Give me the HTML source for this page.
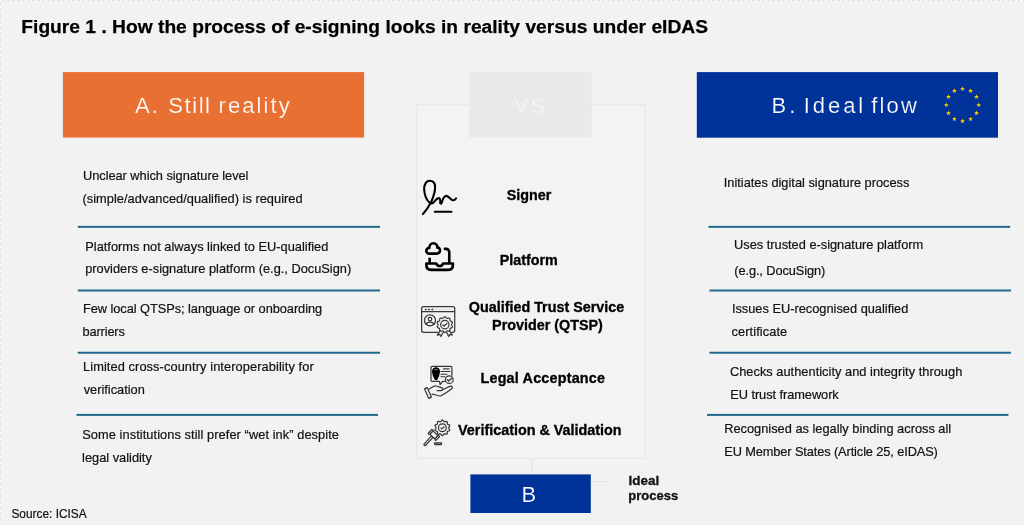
<!DOCTYPE html>
<html lang="en"><head><meta charset="utf-8"><title>Figure 1</title>
<style>
html,body{margin:0;padding:0}
body{width:1024px;height:528px;overflow:hidden;background:#fff;font-family:"Liberation Sans",sans-serif;position:relative}
#bg{position:absolute;left:0;top:0;width:1024px;height:525px;background:#f2f2f2}
#bt{position:absolute;left:0;top:0;width:1024px;height:1px;background:repeating-linear-gradient(90deg,#fafafa 0,#fafafa 2px,#e1e1e1 2px,#e1e1e1 5px)}
#bl{position:absolute;left:0;top:0;width:1px;height:525px;background:repeating-linear-gradient(180deg,#fafafa 0,#fafafa 2px,#e1e1e1 2px,#e1e1e1 6px)}
#br{position:absolute;left:1022px;top:0;width:1px;height:525px;background:repeating-linear-gradient(180deg,#f8f8f8 0,#f8f8f8 2px,#f2f2f2 2px,#f2f2f2 4px)}
.t{position:absolute;white-space:nowrap}
svg{position:absolute;overflow:visible}
</style></head><body>
<div id="bg"></div><div id="bt"></div><div id="bl"></div><div id="br"></div>
<div class="t" style="left:21.30px;top:14px;font-size:19.2px;line-height:25px;height:25px;color:#000;font-weight:bold;letter-spacing:0.015px;-webkit-text-stroke:0.25px #000;">Figure 1 . How the process of e-signing looks in reality versus under eIDAS</div>
<svg style="left:0;top:0" width="1024" height="528" viewBox="0 0 1024 528"><rect x="62.9" y="72.1" width="301.2" height="65.5" fill="#e87032"/><rect x="696.8" y="72.1" width="301.2" height="65.6" fill="#003399"/><rect x="416.8" y="104.5" width="228.3" height="354" fill="#f3f3f3" stroke="#e8e8e8" stroke-width="1.3"/><path d="M532 459V474.4M590.8 481.6H608.8" stroke="#e5e5e5" stroke-width="1.3" fill="none"/><rect x="469.1" y="72.1" width="122.5" height="65.4" fill="#e9e9e9"/><rect x="470.4" y="474.4" width="120.4" height="38.6" fill="#003399"/></svg>
<div class="t" style="left:135.00px;top:91px;font-size:22px;line-height:30px;height:30px;color:#fff;-webkit-text-stroke:0.2px #e87032;"><span style="letter-spacing:2.03px">A.</span> <span style="letter-spacing:1.58px;margin-left:2.24px">Still</span> <span style="letter-spacing:2.07px;margin-left:0.90px">reality</span></div>
<div class="t" style="left:771.55px;top:91px;font-size:22px;line-height:30px;height:30px;color:#fff;-webkit-text-stroke:0.2px #003399;"><span style="letter-spacing:3.08px">B.</span> <span style="letter-spacing:2.92px;margin-left:-0.81px">Ideal</span> <span style="letter-spacing:2.13px;margin-left:-0.99px">flow</span></div>
<div class="t" style="left:514.00px;top:91px;font-size:22px;line-height:30px;height:30px;color:#f8f8f8;-webkit-text-stroke:0.45px #e9e9e9;"><span style="letter-spacing:1.95px">VS</span></div>
<div class="t" style="left:521.50px;top:480px;font-size:22px;line-height:30px;height:30px;color:#fff;-webkit-text-stroke:0.2px #003399;">B</div>
<div class="t" style="left:628.40px;top:472px;font-size:13.5px;line-height:17px;height:17px;color:#111;font-weight:bold;-webkit-text-stroke:0.3px #111;">Ideal</div>
<div class="t" style="left:628.30px;top:487px;font-size:13.0px;line-height:17px;height:17px;color:#111;font-weight:bold;-webkit-text-stroke:0.3px #111;">process</div>
<div class="t" style="left:83.00px;top:167px;font-size:12.8px;line-height:17px;height:17px;color:#111;letter-spacing:-0.036px;-webkit-text-stroke:0.2px #111;">Unclear which signature level</div>
<div class="t" style="left:82.50px;top:190px;font-size:12.8px;line-height:17px;height:17px;color:#111;letter-spacing:0.026px;-webkit-text-stroke:0.2px #111;">(simple/advanced/qualified) is required</div>
<div class="t" style="left:85.25px;top:238px;font-size:12.8px;line-height:17px;height:17px;color:#111;letter-spacing:0.012px;-webkit-text-stroke:0.2px #111;">Platforms not always linked to EU-qualified</div>
<div class="t" style="left:85.20px;top:260px;font-size:12.8px;line-height:17px;height:17px;color:#111;-webkit-text-stroke:0.2px #111;">providers e-signature platform (e.g., DocuSign)</div>
<div class="t" style="left:83.00px;top:300px;font-size:12.8px;line-height:17px;height:17px;color:#111;letter-spacing:-0.053px;-webkit-text-stroke:0.2px #111;">Few local QTSPs; language or onboarding</div>
<div class="t" style="left:82.50px;top:323px;font-size:12.8px;line-height:17px;height:17px;color:#111;letter-spacing:-0.143px;-webkit-text-stroke:0.2px #111;">barriers</div>
<div class="t" style="left:83.00px;top:358px;font-size:12.8px;line-height:17px;height:17px;color:#111;letter-spacing:0.093px;-webkit-text-stroke:0.2px #111;">Limited cross-country interoperability for</div>
<div class="t" style="left:83.70px;top:381px;font-size:12.8px;line-height:17px;height:17px;color:#111;-webkit-text-stroke:0.2px #111;">verification</div>
<div class="t" style="left:82.25px;top:426px;font-size:12.8px;line-height:17px;height:17px;color:#111;letter-spacing:0.074px;-webkit-text-stroke:0.2px #111;">Some institutions still prefer “wet ink” despite</div>
<div class="t" style="left:82.10px;top:449px;font-size:12.8px;line-height:17px;height:17px;color:#111;-webkit-text-stroke:0.2px #111;">legal validity</div>
<div class="t" style="left:723.75px;top:174px;font-size:12.8px;line-height:17px;height:17px;color:#111;-webkit-text-stroke:0.2px #111;">Initiates digital signature process</div>
<div class="t" style="left:734.00px;top:236px;font-size:12.8px;line-height:17px;height:17px;color:#111;-webkit-text-stroke:0.2px #111;">Uses trusted e-signature platform</div>
<div class="t" style="left:734.25px;top:262px;font-size:12.8px;line-height:17px;height:17px;color:#111;letter-spacing:-0.1px;-webkit-text-stroke:0.2px #111;">(e.g., DocuSign)</div>
<div class="t" style="left:731.90px;top:300px;font-size:12.8px;line-height:17px;height:17px;color:#111;-webkit-text-stroke:0.2px #111;">Issues EU-recognised qualified</div>
<div class="t" style="left:731.60px;top:323px;font-size:12.8px;line-height:17px;height:17px;color:#111;letter-spacing:0.08px;-webkit-text-stroke:0.2px #111;">certificate</div>
<div class="t" style="left:729.90px;top:363px;font-size:12.8px;line-height:17px;height:17px;color:#111;letter-spacing:0.03px;-webkit-text-stroke:0.2px #111;">Checks authenticity and integrity through</div>
<div class="t" style="left:730.25px;top:386px;font-size:12.8px;line-height:17px;height:17px;color:#111;letter-spacing:-0.059px;-webkit-text-stroke:0.2px #111;">EU trust framework</div>
<div class="t" style="left:724.25px;top:420px;font-size:12.8px;line-height:17px;height:17px;color:#111;-webkit-text-stroke:0.2px #111;">Recognised as legally binding across all</div>
<div class="t" style="left:724.25px;top:443px;font-size:12.8px;line-height:17px;height:17px;color:#111;letter-spacing:-0.114px;-webkit-text-stroke:0.2px #111;">EU Member States (Article 25, eIDAS)</div>
<div class="t" style="left:11.40px;top:507px;font-size:11.9px;line-height:15px;height:15px;color:#111;-webkit-text-stroke:0.2px #111;">Source: ICISA</div>
<svg style="left:0;top:0" width="1024" height="528" viewBox="0 0 1024 528"><rect x="77.8" y="225.85" width="302.2" height="2" fill="#226a8c"/><rect x="77.8" y="289.50" width="302.2" height="2" fill="#226a8c"/><rect x="77.8" y="351.75" width="302.2" height="2" fill="#226a8c"/><rect x="76.5" y="413.90" width="301.5" height="2" fill="#226a8c"/><rect x="708.5" y="225.85" width="301.70000000000005" height="2" fill="#226a8c"/><rect x="709.5" y="289.50" width="301.5" height="2" fill="#226a8c"/><rect x="709.5" y="351.75" width="301.5" height="2" fill="#226a8c"/><rect x="707" y="413.90" width="301.5" height="2" fill="#226a8c"/></svg>
<div class="t" style="left:506.70px;top:186px;font-size:14.35px;line-height:19px;height:19px;color:#000;font-weight:bold;-webkit-text-stroke:0.3px #000;">Signer</div>
<div class="t" style="left:499.70px;top:251px;font-size:14.35px;line-height:19px;height:19px;color:#000;font-weight:bold;-webkit-text-stroke:0.3px #000;">Platform</div>
<div class="t" style="left:468.80px;top:298px;font-size:14.35px;line-height:19px;height:19px;color:#000;font-weight:bold;-webkit-text-stroke:0.3px #000;">Qualified Trust Service</div>
<div class="t" style="left:492.10px;top:316px;font-size:14.35px;line-height:19px;height:19px;color:#000;font-weight:bold;-webkit-text-stroke:0.3px #000;">Provider (QTSP)</div>
<div class="t" style="left:480.50px;top:369px;font-size:14.35px;line-height:19px;height:19px;color:#000;font-weight:bold;letter-spacing:0.2px;-webkit-text-stroke:0.3px #000;">Legal Acceptance</div>
<div class="t" style="left:458.10px;top:421px;font-size:14.35px;line-height:19px;height:19px;color:#000;font-weight:bold;-webkit-text-stroke:0.3px #000;">Verification &amp; Validation</div>
<!-- signer icon -->
<svg style="left:416px;top:172px" width="64" height="48" viewBox="0 0 704 528" fill="none" stroke="#000" stroke-width="23" stroke-linecap="round" stroke-linejoin="round">
<path d="M76 463 C118 420 150 365 172 318 C196 262 212 205 210 160 C208 118 186 96 152 96 C112 96 86 140 90 195 C94 250 120 312 150 338 C172 356 190 340 206 320 C222 300 240 282 258 288 C272 294 262 340 274 348 C286 354 290 272 326 263 C356 256 368 296 398 308 C418 315 434 304 441 290"/>
<path d="M206 438 H390"/>
<circle cx="272" cy="338" r="10" fill="#000" stroke-width="14"/>
</svg>
<!-- platform icon -->
<svg style="left:416px;top:232px" width="64" height="48" viewBox="0 0 704 528" fill="none" stroke="#000" stroke-width="29" stroke-linecap="round" stroke-linejoin="round">
<path d="M150 238 C122 238 112 218 114 202 C118 182 136 174 146 176 C146 146 166 124 192 124 C218 124 236 146 236 172 C256 170 266 188 264 206 C262 226 248 238 228 238 Z"/>
<path d="M318 186 H330 C352 186 366 204 366 224 V338"/>
<path d="M150 294 V338"/>
<path d="M114 346 H222 C232 370 250 374 262 374 C274 374 290 366 298 346 H406 V364 C406 398 386 416 356 416 H166 C134 416 114 398 114 364 Z"/>
</svg>
<!-- QTSP icon -->
<svg style="left:416px;top:296px" width="64" height="48" viewBox="0 0 704 528" fill="none" stroke="#363636" stroke-width="13.5" stroke-linecap="round" stroke-linejoin="round">
<path d="M236 400 H84 C70 400 62 392 62 378 V138 C62 124 70 116 84 116 H404 C418 116 426 124 426 138 V378 C426 392 418 400 404 400 H394"/>
<path d="M64 172 H424"/>
<path d="M104 149 H112 M140 149 H148 M176 149 H184" stroke-width="15"/>
<path d="M210 149 H400" stroke="#d8d8d8" stroke-width="8"/>
<circle cx="154" cy="268" r="61"/>
<circle cx="154" cy="254" r="20"/>
<path d="M110 310 C118 280 190 280 198 310"/>
<path d="M317.0 228.0 L321.5 229.1 L325.7 232.0 L329.5 236.0 L332.9 240.2 L336.1 243.6 L339.6 245.6 L343.5 246.0 L348.1 245.1 L353.3 243.7 L358.8 242.7 L363.9 242.8 L368.1 244.6 L371.2 248.1 L372.9 252.9 L373.6 258.4 L373.9 263.8 L374.5 268.5 L376.1 272.1 L379.0 274.7 L383.3 276.8 L388.3 278.7 L393.3 281.0 L397.3 284.2 L399.7 288.1 L400.1 292.7 L398.7 297.6 L396.0 302.5 L393.1 307.0 L390.8 311.1 L390.0 315.0 L390.8 318.9 L393.1 323.0 L396.0 327.5 L398.7 332.4 L400.1 337.3 L399.7 341.9 L397.3 345.8 L393.3 349.0 L388.3 351.3 L383.3 353.2 L379.0 355.3 L376.1 357.9 L374.5 361.5 L373.9 366.2 L373.6 371.6 L372.9 377.1 L371.2 381.9 L368.1 385.4 L363.9 387.2 L358.8 387.3 L353.3 386.3 L348.1 384.9 L343.5 384.0 L339.6 384.4 L336.1 386.4 L332.9 389.8 L329.5 394.0 L325.7 398.0 L321.5 400.9 L317.0 402.0 L312.5 400.9 L308.3 398.0 L304.5 394.0 L301.1 389.8 L297.9 386.4 L294.4 384.4 L290.5 384.0 L285.9 384.9 L280.7 386.3 L275.2 387.3 L270.1 387.2 L265.9 385.4 L262.8 381.9 L261.1 377.1 L260.4 371.6 L260.1 366.2 L259.5 361.5 L257.9 357.9 L255.0 355.3 L250.7 353.2 L245.7 351.3 L240.7 349.0 L236.7 345.8 L234.3 341.9 L233.9 337.3 L235.3 332.4 L238.0 327.5 L240.9 323.0 L243.2 318.9 L244.0 315.0 L243.2 311.1 L240.9 307.0 L238.0 302.5 L235.3 297.6 L233.9 292.7 L234.3 288.1 L236.7 284.2 L240.7 281.0 L245.7 278.7 L250.7 276.8 L255.0 274.7 L257.9 272.1 L259.5 268.5 L260.1 263.8 L260.4 258.4 L261.1 252.9 L262.8 248.1 L265.9 244.6 L270.1 242.8 L275.3 242.7 L280.7 243.7 L285.9 245.1 L290.5 246.0 L294.4 245.6 L297.9 243.6 L301.1 240.2 L304.5 236.0 L308.3 232.0 L312.5 229.1 Z" stroke-width="13"/>
<circle cx="317" cy="315" r="46" stroke-width="13"/>
<path d="M296 318 l14 13 l30 -28" stroke-width="14"/>
<path d="M262 386 l-28 44 l28 -8 l12 24 l24 -44 M372 386 l28 44 l-28 -8 l-12 24 l-22 -44" stroke-width="13"/>
</svg>
<!-- legal icon -->
<svg style="left:416px;top:356px" width="64" height="48" viewBox="0 0 704 528" fill="none" stroke="#363636" stroke-width="13.5" stroke-linecap="round" stroke-linejoin="round">
<path d="M318 279 H292 L266 316 L258 279 H178 C170 279 165 275 165 267 V126 C165 118 170 114 178 114 H382 C390 114 395 118 395 126 V212"/>
<path d="M220 130 C250 130 260 154 256 180 C252 212 240 240 230 256 C226 262 214 262 210 256 C200 240 188 212 184 180 C180 154 190 130 220 130 Z" fill="#000" stroke="#000"/>
<path d="M206 152 C214 146 226 146 234 152" stroke="#bbb" stroke-width="9"/>
<path d="M296 142 H370" stroke="#777" stroke-width="20" stroke-linecap="butt"/>
<path d="M274 171 H374 M274 200 H340 M274 229 H318" stroke-width="12"/>
<circle cx="366" cy="260" r="42" fill="#f3f3f3"/>
<path d="M346 262 l14 14 l30 -30" stroke-width="15"/>
<path d="M94 362 L124 348 L170 452 L140 466 Z"/>
<path d="M146 364 C170 350 196 326 222 330 C244 334 262 346 280 348 C300 350 296 378 276 380 H232 M290 372 C320 360 352 340 380 332 C400 328 408 348 392 360 C352 392 310 420 270 440 C240 440 200 420 178 420"/>
</svg>
<!-- verify icon -->
<svg style="left:416px;top:408px" width="64" height="48" viewBox="0 0 704 528" fill="none" stroke="#363636" stroke-width="13.5" stroke-linecap="round" stroke-linejoin="round">
<path d="M290.0 133.0 L294.4 134.2 L298.5 137.4 L302.0 141.9 L305.2 146.6 L308.1 150.3 L311.3 152.4 L315.1 152.6 L319.7 151.3 L325.0 149.4 L330.5 147.9 L335.7 147.6 L340.0 149.2 L342.8 152.8 L344.2 157.8 L344.4 163.6 L344.2 169.2 L344.5 173.9 L345.8 177.4 L348.8 179.8 L353.2 181.5 L358.6 183.0 L364.0 185.1 L368.4 187.9 L370.8 191.7 L371.1 196.3 L369.2 201.2 L366.1 206.0 L362.6 210.4 L360.0 214.3 L359.0 218.0 L360.0 221.7 L362.6 225.6 L366.1 230.0 L369.2 234.8 L371.1 239.7 L370.8 244.3 L368.4 248.1 L364.0 250.9 L358.6 253.0 L353.2 254.5 L348.8 256.2 L345.8 258.6 L344.5 262.1 L344.2 266.8 L344.4 272.4 L344.2 278.2 L342.8 283.2 L340.0 286.8 L335.7 288.4 L330.5 288.1 L325.0 286.6 L319.7 284.7 L315.1 283.4 L311.3 283.6 L308.1 285.7 L305.2 289.4 L302.0 294.1 L298.5 298.6 L294.4 301.8 L290.0 303.0 L285.6 301.8 L281.5 298.6 L278.0 294.1 L274.8 289.4 L271.9 285.7 L268.7 283.6 L264.9 283.4 L260.3 284.7 L255.0 286.6 L249.5 288.1 L244.3 288.4 L240.0 286.8 L237.2 283.2 L235.8 278.2 L235.6 272.4 L235.8 266.8 L235.5 262.1 L234.2 258.6 L231.2 256.2 L226.8 254.5 L221.4 253.0 L216.0 250.9 L211.6 248.1 L209.2 244.3 L208.9 239.7 L210.8 234.8 L213.9 230.0 L217.4 225.6 L220.0 221.7 L221.0 218.0 L220.0 214.3 L217.4 210.4 L213.9 206.0 L210.8 201.2 L208.9 196.3 L209.2 191.7 L211.6 187.9 L216.0 185.1 L221.4 183.0 L226.8 181.5 L231.2 179.8 L234.2 177.4 L235.5 173.9 L235.8 169.2 L235.6 163.6 L235.8 157.8 L237.2 152.8 L240.0 149.2 L244.3 147.6 L249.5 147.9 L255.0 149.4 L260.3 151.3 L264.9 152.6 L268.7 152.4 L271.9 150.3 L274.8 146.6 L278.0 141.9 L281.5 137.4 L285.6 134.2 Z"/>
<circle cx="290" cy="218" r="43"/>
<path d="M274 221 l10 8 l24 -20" stroke-width="13"/>
<g transform="translate(197,296) rotate(43)">
<rect x="-11" y="26" width="22" height="130" rx="11" fill="#f3f3f3"/>
<rect x="-38" y="-25" width="76" height="50" fill="#f3f3f3"/>
<rect x="-58" y="-31" width="20" height="62" rx="6" fill="#f3f3f3"/>
<rect x="38" y="-31" width="20" height="62" rx="6" fill="#f3f3f3"/>
</g>
<rect x="204" y="384" width="78" height="19" rx="6" fill="#aaa"/>
</svg>
<!-- EU stars -->
<svg style="left:0;top:0" width="1024" height="528" viewBox="0 0 1024 528" fill="#ffcc00"><polygon points="962.50,86.20 963.12,87.95 964.97,88.00 963.50,89.12 964.03,90.90 962.50,89.85 960.97,90.90 961.50,89.12 960.03,88.00 961.88,87.95"/><polygon points="970.60,88.37 971.22,90.12 973.07,90.17 971.60,91.29 972.13,93.07 970.60,92.02 969.07,93.07 969.60,91.29 968.13,90.17 969.98,90.12"/><polygon points="976.53,94.30 977.15,96.05 979.00,96.10 977.53,97.22 978.06,99.00 976.53,97.95 975.00,99.00 975.53,97.22 974.06,96.10 975.91,96.05"/><polygon points="978.70,102.40 979.32,104.15 981.17,104.20 979.70,105.32 980.23,107.10 978.70,106.05 977.17,107.10 977.70,105.32 976.23,104.20 978.08,104.15"/><polygon points="976.53,110.50 977.15,112.25 979.00,112.30 977.53,113.42 978.06,115.20 976.53,114.15 975.00,115.20 975.53,113.42 974.06,112.30 975.91,112.25"/><polygon points="970.60,116.43 971.22,118.18 973.07,118.23 971.60,119.35 972.13,121.13 970.60,120.08 969.07,121.13 969.60,119.35 968.13,118.23 969.98,118.18"/><polygon points="962.50,118.60 963.12,120.35 964.97,120.40 963.50,121.52 964.03,123.30 962.50,122.25 960.97,123.30 961.50,121.52 960.03,120.40 961.88,120.35"/><polygon points="954.40,116.43 955.02,118.18 956.87,118.23 955.40,119.35 955.93,121.13 954.40,120.08 952.87,121.13 953.40,119.35 951.93,118.23 953.78,118.18"/><polygon points="948.47,110.50 949.09,112.25 950.94,112.30 949.47,113.42 950.00,115.20 948.47,114.15 946.94,115.20 947.47,113.42 946.00,112.30 947.85,112.25"/><polygon points="946.30,102.40 946.92,104.15 948.77,104.20 947.30,105.32 947.83,107.10 946.30,106.05 944.77,107.10 945.30,105.32 943.83,104.20 945.68,104.15"/><polygon points="948.47,94.30 949.09,96.05 950.94,96.10 949.47,97.22 950.00,99.00 948.47,97.95 946.94,99.00 947.47,97.22 946.00,96.10 947.85,96.05"/><polygon points="954.40,88.37 955.02,90.12 956.87,90.17 955.40,91.29 955.93,93.07 954.40,92.02 952.87,93.07 953.40,91.29 951.93,90.17 953.78,90.12"/></svg>
</body></html>
